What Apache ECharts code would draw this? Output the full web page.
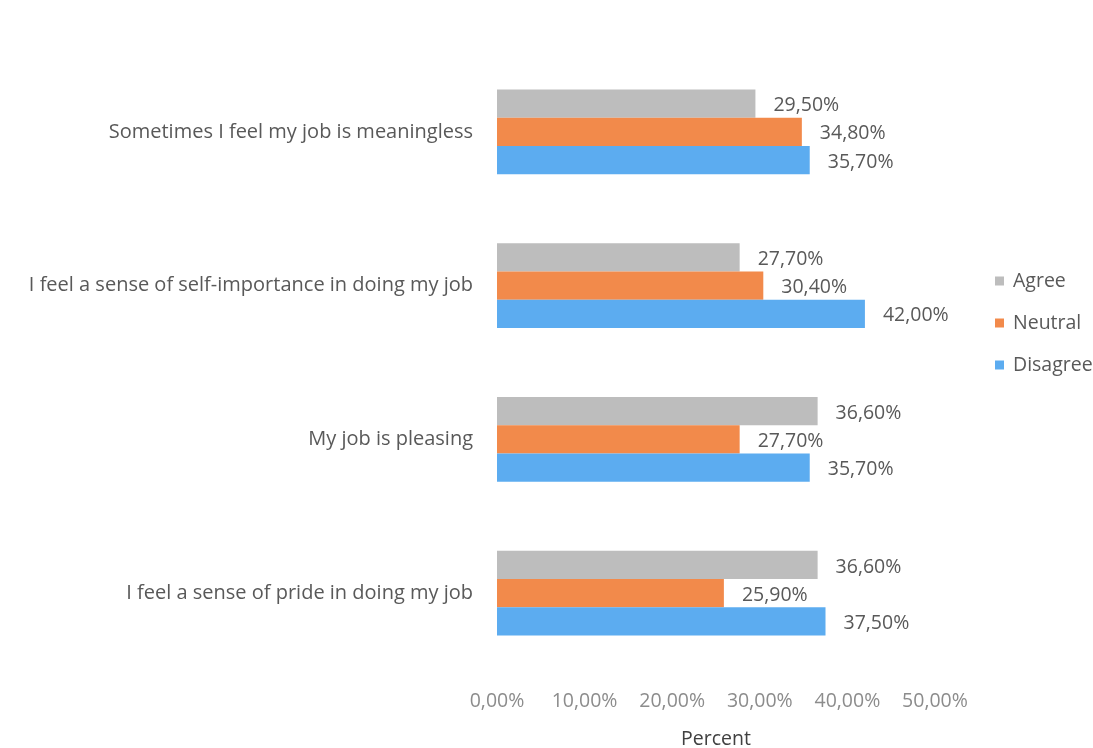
<!DOCTYPE html>
<html><head><meta charset="utf-8">
<script src="https://cdn.jsdelivr.net/npm/echarts@6/dist/echarts.min.js"></script>
<style>html,body{margin:0;padding:0;background:#fff}#c{width:1093px;height:748px}</style>
</head><body><div id="c"></div>
<script>
const categories = [
  "Sometimes I feel my job is meaningless",
  "I feel a sense of self-importance in doing my job",
  "My job is pleasing",
  "I feel a sense of pride in doing my job"
];
const agree = [29.5, 27.7, 36.6, 36.6];
const neutral = [34.8, 30.4, 27.7, 25.9];
const disagree = [35.7, 42.0, 35.7, 37.5];
const seriesNames = ["Agree", "Neutral", "Disagree"];
const colors = ["#bdbdbd", "#f28a4b", "#5cacf0"];
const FONT = "Open Sans";
const fmt = v => v.toFixed(2).replace('.', ',') + '%';

const chart = echarts.init(document.getElementById('c'));
const mk = (name, data, color) => ({
  name, type: 'bar', data, barGap: '0%', barCategoryGap: '45%',
  itemStyle: { color },
  label: { show: true, position: 'right', distance: 18, offset: [0, 2],
    formatter: p => fmt(p.value), color: '#595959', fontFamily: FONT, fontSize: 19.5 }
});
chart.setOption({
  animation: false,
  textStyle: { fontFamily: FONT },
  grid: { left: 497, right: 158, top: 55, bottom: 78, containLabel: false, outerBoundsMode: 'none' },
  legend: {
    orient: 'vertical', left: 990, top: 266, itemGap: 22,
    itemWidth: 9, itemHeight: 9, icon: 'rect',
    data: seriesNames,
    textStyle: { color: '#595959', fontSize: 19.5, fontFamily: FONT, padding: [0, 0, 0, 4] }
  },
  xAxis: {
    type: 'value', min: 0, max: 50, interval: 10,
    name: 'Percent', nameLocation: 'middle', nameGap: 59,
    nameTextStyle: { color: '#404040', fontSize: 19.5, fontFamily: FONT },
    axisLabel: { formatter: v => fmt(v), color: '#8c8c8c', fontSize: 19.5, margin: 21, fontFamily: FONT },
    axisLine: { show: false }, axisTick: { show: false }, splitLine: { show: false }
  },
  yAxis: {
    type: 'category', data: categories, inverse: true,
    axisLabel: { color: '#595959', fontSize: 20, margin: 24, fontFamily: FONT },
    axisLine: { show: false }, axisTick: { show: false }
  },
  series: [mk(seriesNames[0], agree, colors[0]), mk(seriesNames[1], neutral, colors[1]), mk(seriesNames[2], disagree, colors[2])]
});
</script></body></html>
